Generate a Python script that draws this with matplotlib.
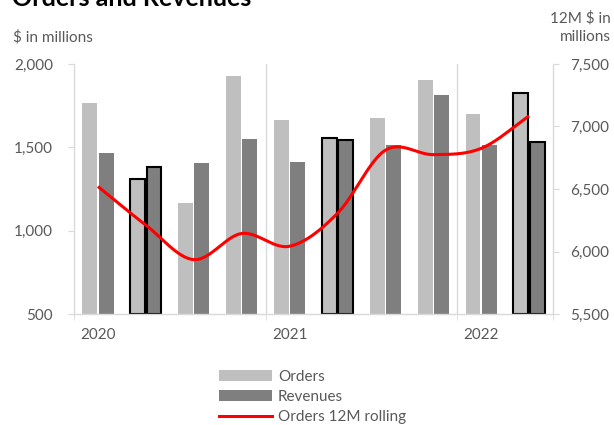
import numpy as np
import matplotlib
matplotlib.use("Agg")
import matplotlib.pyplot as plt
from matplotlib.patches import Patch
from matplotlib.lines import Line2D

quarters = ["Q1 2020", "Q2 2020", "Q3 2020", "Q4 2020",
            "Q1 2021", "Q2 2021", "Q3 2021", "Q4 2021",
            "Q1 2022", "Q2 2022"]
orders = [1764, 1309, 1168, 1925, 1662, 1557, 1678, 1905, 1698, 1823]
revenues = [1466, 1384, 1406, 1551, 1412, 1543, 1515, 1813, 1511, 1531]
orders_12m = [6520, 6211, 5935, 6144, 6042, 6305, 6810, 6775, 6825, 7084]
highlight = [False, True, False, False, False, True, False, False, False, True]
year_labels = ["2020", "2021", "2022"]
year_pos = [0, 4, 8]

FONT = ["Lato", "DejaVu Sans"]
plt.rcParams["font.family"] = FONT
TXT = "#595959"
GRID = "#D9D9D9"
C_ORD = "#BFBFBF"
C_REV = "#7F7F7F"
FS = 11

fig = plt.figure(figsize=(6.14, 4.25), dpi=100)
ax = fig.add_axes([74/614, 1-314/425, (553-74)/614, (314-64)/425])
ax2 = ax.twinx()

x = np.arange(len(quarters))
w = 0.31
off = 0.17
for i in range(len(x)):
    ec = "black" if highlight[i] else "none"
    lw = 1.5 if highlight[i] else 0
    ax.bar(x[i]-off, orders[i]-500, w, bottom=500, color=C_ORD, edgecolor=ec, linewidth=lw, zorder=2)
    ax.bar(x[i]+off, revenues[i]-500, w, bottom=500, color=C_REV, edgecolor=ec, linewidth=lw, zorder=2)

# Catmull-Rom smoothing of the rolling line
def catmull(xs, ys, n=30):
    xs = np.asarray(xs, float); ys = np.asarray(ys, float)
    P = np.column_stack([xs, ys])
    P = np.vstack([P[0] - (P[1]-P[0]), P, P[-1] + (P[-1]-P[-2])])
    out = []
    for i in range(1, len(P)-2):
        p0, p1, p2, p3 = P[i-1], P[i], P[i+1], P[i+2]
        t = np.linspace(0, 1, n)[:, None]
        pts = 0.5*((2*p1) + (-p0+p2)*t + (2*p0-5*p1+4*p2-p3)*t**2 + (-p0+3*p1-3*p2+p3)*t**3)
        out.append(pts if i == 1 else pts[1:])
    out = np.vstack(out)
    return out[:, 0], out[:, 1]

sx, sy = catmull(x, orders_12m)
ax2.plot(sx, sy, color="red", linewidth=2.2, zorder=5, solid_capstyle="butt")

ax.set_xlim(-0.5, len(x)-0.5)
ax.set_ylim(500, 2000)
ax2.set_ylim(5500, 7500)
ax.set_yticks([500, 1000, 1500, 2000])
ax.set_yticklabels(["500", "1,000", "1,500", "2,000"])
ax2.set_yticks([5500, 6000, 6500, 7000, 7500])
ax2.set_yticklabels(["5,500", "6,000", "6,500", "7,000", "7,500"])

ax.set_xticks(year_pos)
ax.set_xticklabels(year_labels)
ax.set_xticks([-0.5, 3.5, 7.5, 9.5], minor=True)
ax.tick_params(axis="x", which="major", length=0, pad=10, labelsize=FS, labelcolor=TXT)
ax.tick_params(axis="x", which="minor", length=4, color=GRID, direction="out")
ax.tick_params(axis="y", length=4, color=GRID, direction="out", pad=11, labelsize=FS, labelcolor=TXT)
ax2.tick_params(axis="y", length=4, color=GRID, direction="out", pad=8, labelsize=FS, labelcolor=TXT)

for a in (ax, ax2):
    for s in a.spines.values():
        s.set_color(GRID)
        s.set_linewidth(1)
    a.spines["top"].set_visible(False)
ax2.spines["bottom"].set_visible(False)
ax2.spines["left"].set_visible(False)
ax.spines["right"].set_visible(False)

for xs_ in [3.5, 7.5]:
    ax.axvline(xs_, color=GRID, linewidth=1, zorder=1)

fig.text(12/614, 1-(-1)/425, "Orders and Revenues", fontsize=18, fontweight="bold",
         color="black", ha="left", va="center")
fig.text(13/614, 1-37/425, "$ in millions", fontsize=FS, color=TXT, ha="left", va="center")
fig.text(611/614, 1-27.5/425, "12M $ in\nmillions", fontsize=FS, color=TXT, ha="right", va="center",
         linespacing=1.35)

handles = [Patch(facecolor=C_ORD, edgecolor="none"),
           Patch(facecolor=C_REV, edgecolor="none"),
           Line2D([0], [0], color="red", linewidth=2.2)]
fig.legend(handles, ["Orders", "Revenues", "Orders 12M rolling"], loc="upper left",
           bbox_to_anchor=(219/614, 1-370/425), frameon=False, fontsize=FS,
           handlelength=3.5, handletextpad=0.35, labelspacing=0.4, borderpad=0,
           borderaxespad=0, labelcolor=TXT)

fig.savefig("out.png", dpi=100)
